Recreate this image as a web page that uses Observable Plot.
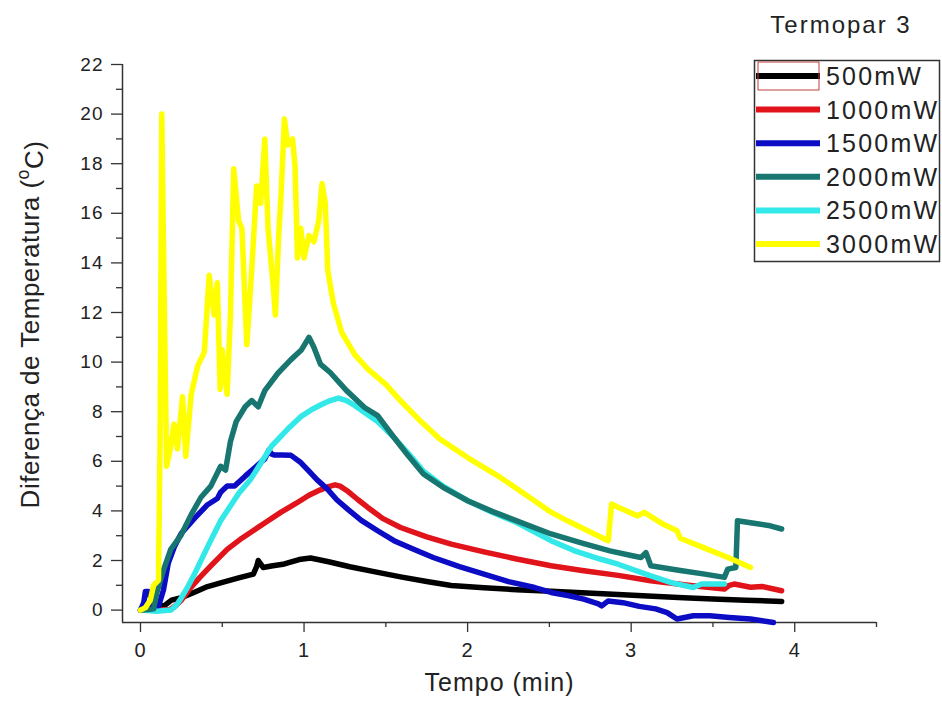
<!DOCTYPE html>
<html><head><meta charset="utf-8">
<script src="https://cdn.jsdelivr.net/npm/d3@7"></script>
<script src="https://cdn.jsdelivr.net/npm/@observablehq/plot@0.6"></script>
<style>
body{margin:0;background:#fff;}
#wrap{position:relative;width:942px;height:708px;overflow:hidden;}
#wrap svg{position:absolute;left:0;top:0;}
</style></head><body><div id="wrap"></div>
<script>
const legendTitle = "Termopar 3";
const xTitle = "Tempo (min)";
const yTitle = "Diferença de Temperatura (°C)";
const seriesNames = ["500mW","1000mW","1500mW","2000mW","2500mW","3000mW"];
const seriesColors = ["#000000","#e0141a","#0c0cc4","#17766f","#33e8e8","#ffff00"];

const t500 = [0,0.05,0.08,0.11,0.14,0.19,0.25,0.33,0.41,0.49,0.6,0.69,0.71,0.72,0.75,0.8,0.88,0.97,1.04,1.15,1.28,1.42,1.59,1.75,1.9,2.1,2.3,2.51,2.7,2.92,3.1,3.32,3.5,3.7,3.92];
const v500 = [0,0.02,0.14,0.22,0.15,0.4,0.5,0.72,0.95,1.1,1.3,1.45,1.75,2.0,1.72,1.78,1.86,2.04,2.1,1.95,1.75,1.56,1.34,1.15,0.99,0.9,0.82,0.76,0.7,0.63,0.57,0.5,0.45,0.4,0.35];

const t1000 = [0,0.1,0.18,0.22,0.25,0.3,0.36,0.43,0.53,0.62,0.7,0.78,0.86,0.95,1.03,1.1,1.15,1.19,1.22,1.27,1.33,1.39,1.48,1.59,1.75,1.9,2.1,2.3,2.51,2.7,2.92,3.12,3.35,3.57,3.6,3.63,3.73,3.8,3.92];
const v1000 = [0,0,0.02,0.2,0.4,0.85,1.3,1.78,2.45,2.9,3.25,3.6,3.95,4.3,4.63,4.85,4.98,5.05,5.0,4.78,4.45,4.14,3.7,3.33,2.95,2.66,2.35,2.06,1.79,1.6,1.4,1.18,1.0,0.85,1.0,1.05,0.92,0.95,0.78];

const t1500 = [0,0.02,0.03,0.05,0.08,0.11,0.14,0.17,0.21,0.25,0.33,0.41,0.47,0.49,0.53,0.575,0.64,0.7,0.76,0.785,0.8,0.82,0.86,0.92,0.98,1.03,1.08,1.14,1.2,1.27,1.35,1.45,1.55,1.67,1.79,1.95,2.1,2.25,2.41,2.51,2.62,2.71,2.8,2.82,2.86,2.95,3.05,3.15,3.22,3.28,3.38,3.48,3.6,3.73,3.87];
const v1500 = [0,0.3,0.75,0.75,0.1,0.15,0.8,1.9,2.6,3.1,3.7,4.25,4.5,4.75,5.0,5.0,5.4,5.75,6.1,6.45,6.3,6.25,6.25,6.24,5.95,5.6,5.25,4.9,4.45,4.05,3.62,3.2,2.8,2.45,2.12,1.75,1.45,1.15,0.91,0.71,0.58,0.44,0.25,0.17,0.37,0.3,0.15,0.05,-0.1,-0.36,-0.23,-0.23,-0.3,-0.36,-0.5];

const t2000 = [0,0.05,0.08,0.1,0.14,0.185,0.246,0.31,0.37,0.43,0.49,0.52,0.55,0.585,0.64,0.68,0.72,0.76,0.84,0.92,0.985,1.03,1.06,1.1,1.16,1.26,1.37,1.45,1.55,1.64,1.73,1.85,2.0,2.15,2.3,2.51,2.7,2.87,3.0,3.06,3.09,3.12,3.3,3.45,3.57,3.59,3.64,3.65,3.75,3.85,3.92];
const v2000 = [0,0.02,0.05,0.7,1.6,2.45,3.0,3.85,4.55,5.0,5.8,5.65,6.8,7.6,8.2,8.45,8.2,8.85,9.55,10.1,10.5,11.0,10.6,9.92,9.58,8.85,8.17,7.84,6.96,6.2,5.49,4.95,4.41,3.98,3.6,3.07,2.7,2.39,2.2,2.12,2.32,1.79,1.6,1.45,1.32,1.65,1.72,3.6,3.5,3.4,3.27];

const t2500 = [0,0.1,0.185,0.22,0.25,0.29,0.33,0.41,0.49,0.6,0.67,0.7,0.8,0.9,0.98,1.05,1.11,1.16,1.21,1.26,1.31,1.37,1.45,1.55,1.64,1.73,1.85,2.0,2.15,2.3,2.51,2.65,2.81,2.92,3.12,3.25,3.38,3.43,3.5,3.57];
const v2500 = [0,-0.05,0,0.2,0.5,0.95,1.45,2.55,3.6,4.7,5.25,5.55,6.6,7.3,7.8,8.1,8.3,8.45,8.55,8.45,8.25,7.97,7.6,6.96,6.3,5.6,5.0,4.41,3.95,3.53,2.8,2.4,2.06,1.85,1.38,1.1,0.91,1.05,1.05,1.05];

const t3000 = [0,0.03,0.06,0.08,0.11,0.12,0.13,0.145,0.16,0.185,0.205,0.226,0.257,0.277,0.31,0.35,0.39,0.42,0.45,0.47,0.487,0.5,0.53,0.55,0.57,0.6,0.62,0.65,0.68,0.71,0.735,0.76,0.78,0.81,0.825,0.845,0.86,0.88,0.9,0.93,0.945,0.96,0.98,1.0,1.03,1.06,1.09,1.11,1.13,1.145,1.18,1.23,1.31,1.39,1.5,1.59,1.7,1.83,2.0,2.2,2.4,2.51,2.61,2.75,2.86,2.88,2.92,3.04,3.08,3.2,3.28,3.3,3.45,3.6,3.73];
const v3000 = [0,0.1,0.4,1.0,1.2,7,20,12.6,5.8,6.6,7.5,6.5,8.6,6.2,8.7,9.85,10.4,13.5,11.9,13.2,8.9,10.5,8.7,11.9,17.8,15.7,15.4,10.7,13.7,17.1,16.4,19.0,15.4,13.2,11.9,15.1,16.8,19.8,18.75,19.0,17.9,14.2,15.4,14.2,15.1,14.85,15.7,17.2,16.4,13.7,12.35,11.2,10.3,9.72,9.1,8.44,7.7,6.9,6.15,5.35,4.45,3.95,3.6,3.15,2.8,4.28,4.15,3.8,3.94,3.45,3.2,2.9,2.5,2.1,1.72];

const xTicks = [0,1,2,3,4];
const xMinor = [0.5,1.5,2.5,3.5,4.5];
const yTicks = [0,2,4,6,8,10,12,14,16,18,20,22];
const yMinor = [1,3,5,7,9,11,13,15,17,19,21];

const seriesT = [t500,t1000,t1500,t2000,t2500,t3000];
const seriesV = [v500,v1000,v1500,v2000,v2500,v3000];
const drawOrder = [0,1,2,4,3,5];
const rows = [];
drawOrder.forEach(i => seriesT[i].forEach((t,j) => rows.push({series: seriesNames[i], t, v: seriesV[i][j]})));

const font = "'Liberation Sans', Arial, sans-serif";
const plot = Plot.plot({
  width: 942, height: 708,
  marginLeft: 122, marginRight: 66, marginTop: 64, marginBottom: 86,
  x: {domain: [-0.11, 4.5]},
  y: {domain: [-0.5, 22]},
  color: {domain: seriesNames, range: seriesColors},
  style: {fontFamily: font, color: "#222", background: "white", overflow: "visible"},
  marks: [
    Plot.axisY(yTicks, {tickSize: 11, tickPadding: 8, fontSize: 19, label: null, stroke: "#333", strokeWidth: 1.3, fill: "#222", tickFormat: d => String(d)}),
    Plot.axisY(yMinor, {tickSize: 6, text: null, label: null, stroke: "#333", strokeWidth: 1.3}),
    Plot.axisX(xTicks, {tickSize: 10, tickPadding: 10, fontSize: 20, label: null, stroke: "#333", strokeWidth: 1.3, fill: "#222", tickFormat: d => String(d)}),
    Plot.axisX(xMinor, {tickSize: 5, text: null, label: null, stroke: "#333", strokeWidth: 1.3}),
    Plot.ruleX([-0.11], {stroke: "#333", strokeWidth: 1.5}),
    Plot.ruleY([-0.5], {stroke: "#333", strokeWidth: 1.5}),
    Plot.line(rows, {x: "t", y: "v", z: "series", stroke: "series", strokeWidth: 5.5, strokeLinejoin: "round", strokeLinecap: "round"}),
    Plot.text([xTitle], {frameAnchor: "bottom", dy: 68, fontSize: 25, fill: "#222"}),
    Plot.text([yTitle], {frameAnchor: "left", textAnchor: "middle", dx: -92, dy: -19, rotate: -90, fontSize: 26, fill: "#222"})
  ]
});
document.getElementById("wrap").appendChild(plot);

d3.select(plot).selectAll("g[aria-label='x-axis tick label'] text, g[aria-label='y-axis tick label'] text").attr("letter-spacing", "1px");
d3.select(plot).selectAll("text").filter(function(){ return this.textContent === yTitle; }).each(function(){
  const t = d3.select(this);
  t.text(null).attr("letter-spacing", "0.5px");
  t.append("tspan").text("Diferença de Temperatura (");
  t.append("tspan").attr("dy", "-0.55em").attr("font-size", "0.68em").text("o");
  t.append("tspan").attr("dy", "0.55em").text("C)");
});
d3.select(plot).selectAll("text").filter(function(){ return this.textContent === xTitle; }).attr("letter-spacing", "1px");

const lg = d3.select("#wrap").append("svg").attr("width", 942).attr("height", 708).style("pointer-events", "none")
  .style("font-family", font);
lg.append("text").attr("x", 841).attr("y", 33).attr("text-anchor", "middle").attr("font-size", 24)
  .attr("letter-spacing", "2px").attr("fill", "#222").text(legendTitle);
lg.append("rect").attr("x", 754.5).attr("y", 60.5).attr("width", 185).attr("height", 201)
  .attr("fill", "white").attr("stroke", "#333").attr("stroke-width", 1.5);
seriesNames.forEach((name, i) => {
  const cy = 76 + i * 33.6;
  lg.append("line").attr("x1", 756).attr("x2", 820).attr("y1", cy).attr("y2", cy)
    .attr("stroke", seriesColors[i]).attr("stroke-width", 6);
  lg.append("text").attr("x", 826).attr("y", cy + 9).attr("font-size", 25).attr("letter-spacing", "2.2px")
    .attr("fill", "#222").text(name);
});
lg.append("rect").attr("x", 758).attr("y", 62).attr("width", 61).attr("height", 28)
  .attr("fill", "none").attr("stroke", "#c04040").attr("stroke-width", 1);
</script>
</body></html>
